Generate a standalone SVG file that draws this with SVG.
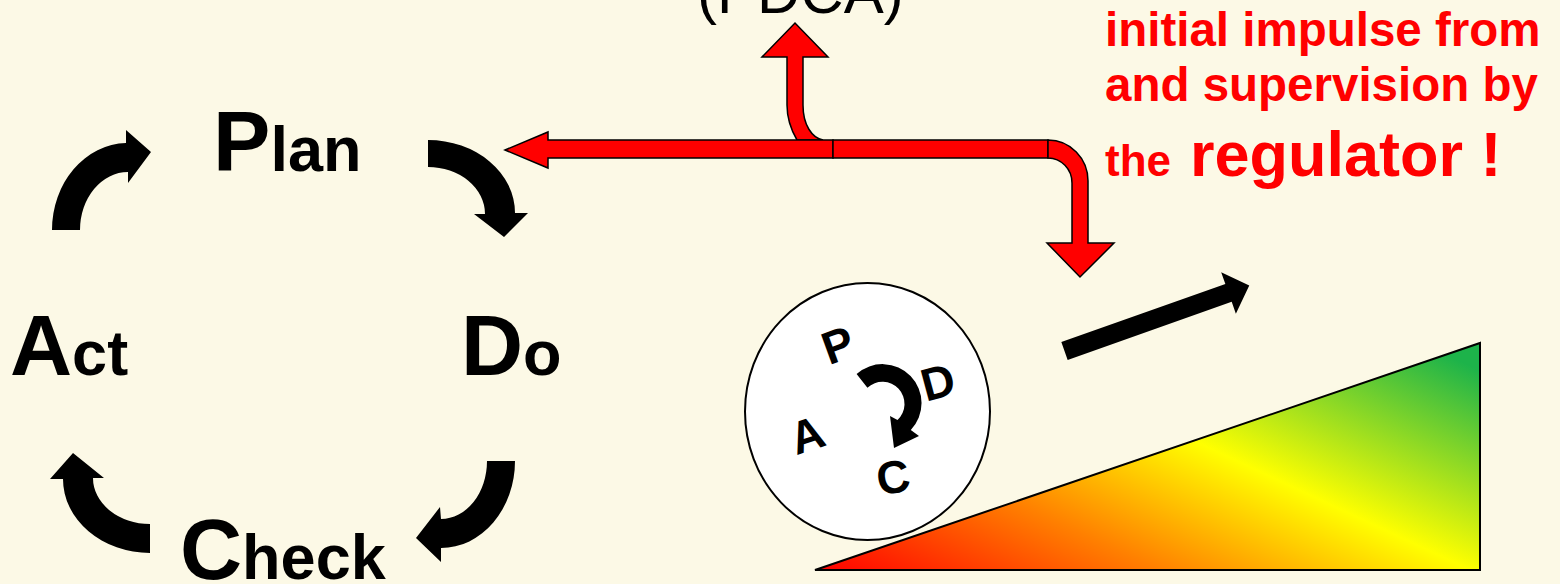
<svg xmlns="http://www.w3.org/2000/svg" width="1560" height="584" viewBox="0 0 1560 584">
<defs>
<style>
.big{font-family:"Liberation Sans",Arial,sans-serif;font-weight:bold;fill:#000}
.cap{font-size:86px}
.sm{font-size:63px}
.red{font-family:"Liberation Sans",Arial,sans-serif;font-weight:bold;fill:#ff0000}
.ra{fill:#ff0000;stroke:#000;stroke-width:1.5;stroke-linejoin:miter}
.ba{fill:#000}
.wl{font-family:"Liberation Sans",Arial,sans-serif;font-weight:bold;font-size:46px;fill:#000}
</style>
<linearGradient id="ramp" gradientUnits="userSpaceOnUse" x1="815" y1="570" x2="1021" y2="129">
<stop offset="0" stop-color="#ff0000"/>
<stop offset="0.3" stop-color="#ff8000"/>
<stop offset="0.57" stop-color="#ffff00"/>
<stop offset="0.95" stop-color="#1db34a"/>
</linearGradient>
</defs>
<rect width="1560" height="584" fill="#fcf9e6"/>

<text x="697" y="13" font-family="Liberation Sans,Arial,sans-serif" font-size="60" fill="#000">(PDCA)</text>

<g id="plan"><text class="big" x="213" y="171"><tspan class="cap">P</tspan><tspan class="sm">lan</tspan></text></g>
<g id="do"><text class="big" x="461" y="375"><tspan class="cap">D</tspan><tspan class="sm">o</tspan></text></g>
<g id="act"><text class="big" x="10" y="375"><tspan class="cap">A</tspan><tspan class="sm">ct</tspan></text></g>
<g id="check"><text class="big" x="180" y="579"><tspan class="cap">C</tspan><tspan class="sm">heck</tspan></text></g>

<g id="cycle-arrows">
<path class="ba" d="M52,230 A76,87 0 0 1 126,143 L126,130 L151,152 L128,183 L128,172 A48,58 0 0 0 80,230 Z"/>
<path class="ba" d="M428,140 A87,73 0 0 1 515,213 L528,213 L504,237 L474,214 L485,214 A57,47 0 0 0 428,167 Z"/>
<path class="ba" d="M487,461 L515,461 A74,87 0 0 1 441,548 L441,562 L416,538 L440,507 L441,519 A46,58 0 0 0 487,461 Z"/>
<path class="ba" d="M150,553 A87,74 0 0 1 63,479 L50,479 L73,453 L104,478 L93,478 A57,46 0 0 0 150,524 Z"/>
</g>

<g id="red-arrows">
<path class="ra" d="M797,140 C790,128 787,118 787,105 L787,57 L762,57 L795,23 L828,57 L803,57 L803,105 C803,125 812,138 823,140 Z"/>
<path class="ra" d="M833,140 L548,140 L548,132 L505,150 L548,168 L548,158 L833,158 Z"/>
<path class="ra" d="M833,140 L1048,140 L1048,158 L833,158 Z"/>
<path class="ra" d="M1048,140 A40,41 0 0 1 1088,181 L1088,243 L1114,243 L1080,277 L1047,243 L1072,243 L1072,183 A24,25 0 0 0 1048,158 Z"/>
</g>

<g id="regulator-text">
<text class="red" x="1105" y="46" font-size="47.5">initial impulse from</text>
<text class="red" x="1105" y="101" font-size="47.5">and supervision by</text>
<text class="red" x="1105" y="176" font-size="44">the</text>
<text class="red" x="1190" y="176" font-size="63">regulator !</text>
</g>

<g id="ramp-node">
<polygon points="815,570 1480,343 1480,570" fill="url(#ramp)" stroke="#000" stroke-width="2"/>
</g>

<g id="progress-arrow">
<polygon class="ba" transform="translate(1064.5,351) rotate(-19.5)" points="0,-9.5 174,-9.5 174,-22 196,0 174,22 174,9.5 0,9.5"/>
</g>

<g id="wheel">
<ellipse cx="867.5" cy="411.5" rx="122.5" ry="128.5" fill="#fff" stroke="#000" stroke-width="2"/>
<text class="wl" transform="translate(838,345) rotate(-20)" text-anchor="middle" dominant-baseline="central">P</text>
<text class="wl" transform="translate(938,382) rotate(-15)" text-anchor="middle" dominant-baseline="central">D</text>
<text class="wl" transform="translate(807,435) rotate(-18)" text-anchor="middle" dominant-baseline="central">A</text>
<text class="wl" transform="translate(893,477) rotate(-10)" text-anchor="middle" dominant-baseline="central">C</text>
<path class="ba" d="M856.6,374 A39,39 0 0 1 910.8,430 L919,436 L894,448 L890,416 L897.5,420 A22,22 0 0 0 867.4,387.7 Z"/>
</g>
</svg>
